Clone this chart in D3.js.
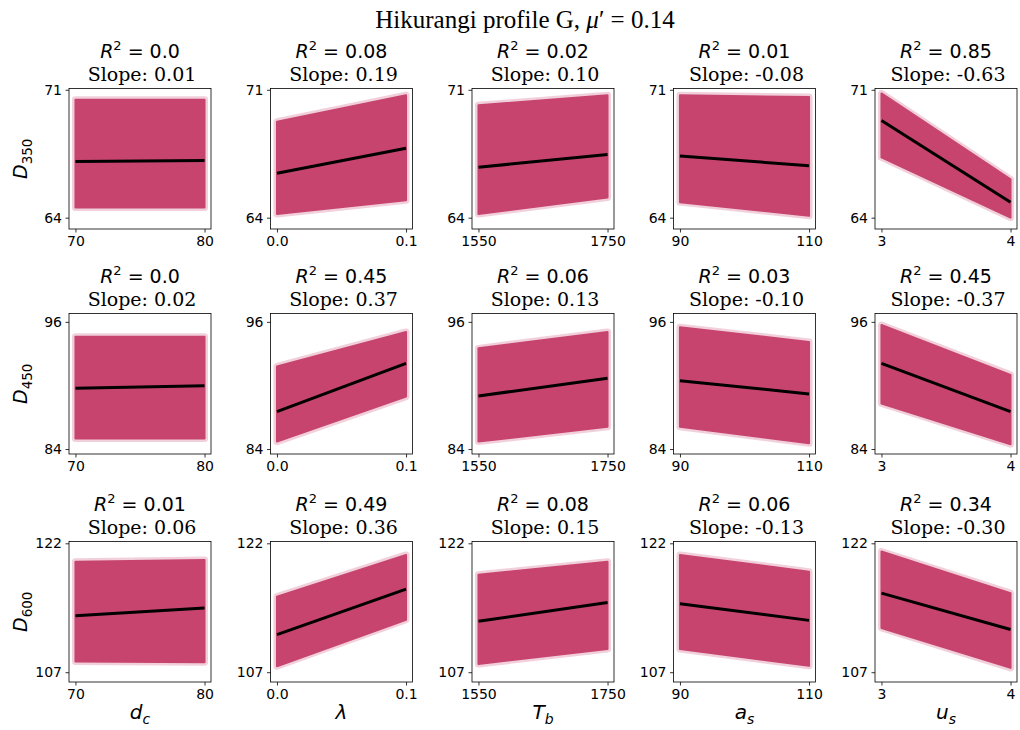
<!DOCTYPE html>
<html>
<head>
<meta charset="utf-8">
<script src="https://cdn.jsdelivr.net/npm/d3@7"></script>
<style>
  body { margin: 0; background: #fff; }
  text { fill: #000; }
</style>
</head>
<body>
<div id="chart"></div>
<script>
// parameters on x, depths on y
var xNames = [["d","c"],["λ",""],["T","b"],["a","s"],["u","s"]];
var xTicks = [[70,80],[0.0,0.1],[1550,1750],[90,110],[3,4]];
var xTickLabels = [["70","80"],["0.0","0.1"],["1550","1750"],["90","110"],["3","4"]];
var depths = ["350","450","600"];
var yTicks = [[64,71],[84,96],[107,122]];
var yLims = [[63.38,71.07],[83.53,96.79],[105.86,122.21]];

var r2 = [
  ["0.0","0.08","0.02","0.01","0.85"],
  ["0.0","0.45","0.06","0.03","0.45"],
  ["0.01","0.49","0.08","0.06","0.34"]
];
var slopes = [
  ["0.01","0.19","0.10","-0.08","-0.63"],
  ["0.02","0.37","0.13","-0.10","-0.37"],
  ["0.06","0.36","0.15","-0.13","-0.30"]
];

// scatter cloud envelope: value at x min and x max
var bandLow = [
  [[64.55,64.55],[64.2,64.95],[64.2,65.1],[64.85,64.1],[67.3,64.0]],
  [[85.0,85.0],[84.7,88.95],[84.7,86.1],[86.1,84.55],[88.3,84.45]],
  [[108.25,108.15],[107.7,113.1],[107.95,109.7],[109.7,107.75],[112.15,107.5]]
];
var bandHigh = [
  [[70.45,70.45],[69.25,70.7],[70.15,70.7],[70.7,70.6],[70.8,66.1]],
  [[94.6,94.6],[91.8,95.05],[93.5,95.05],[95.5,94.1],[95.7,91.0]],
  [[119.85,120.05],[115.8,120.65],[118.35,119.85],[120.65,118.7],[121.05,116.2]]
];
// fitted line: value at x min and x max
var fitLine = [
  [[67.07,67.13],[66.43,67.8],[66.76,67.46],[67.38,66.84],[69.32,64.84]],
  [[89.73,89.98],[87.53,92.09],[89.01,90.67],[90.45,89.2],[92.09,87.53]],
  [[113.58,114.47],[111.37,116.67],[112.92,115.12],[114.97,113.03],[116.2,111.97]]
];

var W = 1020, H = 730;
var left0 = 69, colStep = 201.5, pw = 142;
var rowTops = [88.5, 313.5, 541.5], ph = 140.5;
var pink = "#c7446f";

var svg = d3.select("#chart").append("svg")
  .attr("width", W).attr("height", H)
  .style("font-family", "DejaVu Sans");

// main title
var title = svg.append("text")
  .attr("x", 525).attr("y", 28)
  .attr("text-anchor", "middle")
  .style("font-family", "Liberation Serif")
  .style("font-size", "25px");
title.append("tspan").text("Hikurangi profile G, ");
title.append("tspan").style("font-style", "italic").text("μ");
title.append("tspan").text("′ = 0.14");

for (var r = 0; r < 3; r++) {
  for (var c = 0; c < 5; c++) {
    var px = left0 + c * colStep, py = rowTops[r];
    var span = xTicks[c][1] - xTicks[c][0];
    var x = d3.scaleLinear()
      .domain([xTicks[c][0] - 0.05 * span, xTicks[c][1] + 0.05 * span])
      .range([0, pw]);
    var y = d3.scaleLinear().domain(yLims[r]).range([ph, 0]);

    var g = svg.append("g").attr("transform", "translate(" + px + "," + py + ")");

    var poly = [
      [xTicks[c][0], bandLow[r][c][0]],
      [xTicks[c][1], bandLow[r][c][1]],
      [xTicks[c][1], bandHigh[r][c][1]],
      [xTicks[c][0], bandHigh[r][c][0]]
    ];
    var area = d3.line().x(function(d){ return x(d[0]); }).y(function(d){ return y(d[1]); });
    // faint fringe of sparse points
    g.append("path").attr("d", area(poly) + "Z")
      .attr("fill", pink).attr("fill-opacity", 0.25)
      .attr("stroke", pink).attr("stroke-opacity", 0.25)
      .attr("stroke-width", 7).attr("stroke-linejoin", "round");
    g.append("path").attr("d", area(poly) + "Z")
      .attr("fill", pink)
      .attr("stroke", pink).attr("stroke-width", 2).attr("stroke-linejoin", "round");

    // regression line
    g.append("line")
      .attr("x1", x(xTicks[c][0])).attr("y1", y(fitLine[r][c][0]))
      .attr("x2", x(xTicks[c][1])).attr("y2", y(fitLine[r][c][1]))
      .attr("stroke", "#000").attr("stroke-width", 3);

    // frame
    g.append("rect").attr("width", pw).attr("height", ph)
      .attr("fill", "none").attr("stroke", "#000").attr("stroke-width", 0.8);

    var xAxis = g.append("g").attr("transform", "translate(0," + ph + ")")
      .call(d3.axisBottom(x).tickValues(xTicks[c]).tickSize(3.5).tickPadding(3.5)
        .tickFormat(function(d, i){ return xTickLabels[this.c][i]; }.bind({c: c})));
    var yAxis = g.append("g")
      .call(d3.axisLeft(y).tickValues(yTicks[r]).tickSize(3.5).tickPadding(3.5)
        .tickFormat(d3.format("d")));
    [xAxis, yAxis].forEach(function(a){
      a.select(".domain").remove();
      a.selectAll("line").attr("stroke", "#000").attr("stroke-width", 0.8);
      a.selectAll("text").style("font-family", "DejaVu Sans").style("font-size", "14px").attr("fill", "#000");
    });

    // subplot title, two lines
    var t1 = g.append("text").attr("x", pw / 2).attr("y", -31)
      .attr("text-anchor", "middle").style("font-size", "19px");
    t1.append("tspan").style("font-style", "italic").text("R");
    t1.append("tspan").attr("dy", -8).style("font-size", "13px").text("2");
    t1.append("tspan").attr("dy", 8).text(" = " + r2[r][c]);
    g.append("text").attr("x", pw / 2 + 2).attr("y", -8)
      .attr("text-anchor", "middle")
      .style("font-family", "DejaVu Serif").style("font-size", "19px")
      .text("Slope: " + slopes[r][c]);

    // y label
    if (c === 0) {
      var yl = svg.append("text")
        .attr("transform", "translate(27," + (py + ph / 2) + ") rotate(-90)")
        .attr("text-anchor", "middle").style("font-size", "19px");
      yl.append("tspan").style("font-style", "italic").text("D");
      yl.append("tspan").attr("dy", 5).style("font-size", "13.5px").text(depths[r]);
    }
    // x label
    if (r === 2) {
      var xl = svg.append("text")
        .attr("x", px + pw / 2).attr("y", 719)
        .attr("text-anchor", "middle").style("font-size", "20px");
      xl.append("tspan").style("font-style", "italic").text(xNames[c][0]);
      if (xNames[c][1]) {
        xl.append("tspan").attr("dy", 5).style("font-style", "italic").style("font-size", "14px").text(xNames[c][1]);
      }
    }
  }
}
</script>
</body>
</html>
